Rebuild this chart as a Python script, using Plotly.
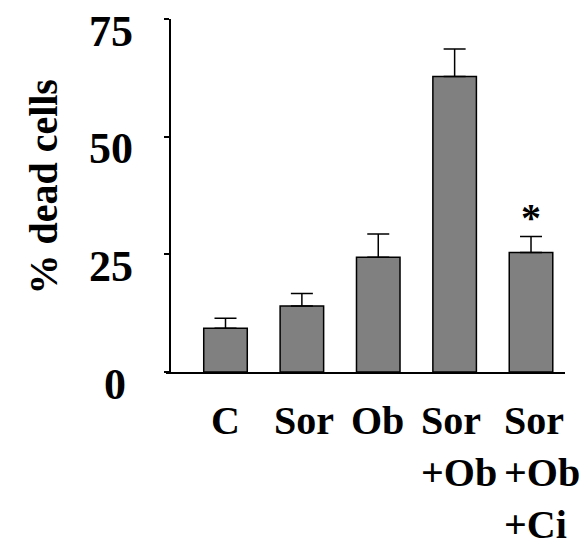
import plotly.graph_objects as go

categories = ["C", "Sor", "Ob", "Sor<br>+Ob", "Sor<br>+Ob<br>+Ci"]
values = [9.3, 14.0, 24.4, 62.8, 25.4]
errors = [2.1, 2.7, 4.9, 5.8, 3.4]
ytick_vals = [0, 25, 50, 75]
ytick_text = ["0", "25", "50", "75"]
significant = [False, False, False, False, True]

# layout tweaks (pixel nudges of text, not data)
LABEL_XSHIFT = [0, 2, -1, 4, 11]
TICK_XSHIFT = [-7, 0, 0, 0]

FONT = "'Times New Roman', 'Liberation Serif', serif"
xs = list(range(len(categories)))

fig = go.Figure()
fig.add_trace(go.Bar(
    x=xs, y=values, width=0.57,
    marker=dict(color="#808080", line=dict(color="black", width=1.5)),
    error_y=dict(type="data", array=errors, arrayminus=[0] * len(errors),
                 symmetric=False, color="black", thickness=1.5, width=11),
    showlegend=False,
))

annotations = []
for i, lab in enumerate(categories):
    annotations.append(dict(
        x=i, y=0, xref="x", yref="paper", text="<b>" + lab + "</b>", showarrow=False,
        xanchor="center", yanchor="top", align="left", yshift=-24,
        xshift=LABEL_XSHIFT[i],
        font=dict(family=FONT, size=40, color="black"),
    ))
for j, (v, t) in enumerate(zip(ytick_vals, ytick_text)):
    annotations.append(dict(
        x=-0.078, y=v, xref="paper", yref="y", text="<b>" + t + "</b>", showarrow=False,
        xanchor="right", yanchor="middle", yshift=-12, xshift=TICK_XSHIFT[j],
        font=dict(family=FONT, size=44, color="black"),
    ))
for i, sig in enumerate(significant):
    if sig:
        annotations.append(dict(
            x=i, y=values[i] + errors[i], xref="x", yref="y", text="<b>*</b>",
            showarrow=False, xanchor="center", yanchor="bottom", yshift=-6,
            font=dict(family=FONT, size=40, color="black"),
        ))
annotations.append(dict(
    x=-0.308, y=0.5255, xref="paper", yref="paper", text="<b>% dead cells</b>",
    showarrow=False, textangle=-90, xanchor="center", yanchor="middle",
    font=dict(family=FONT, size=40, color="black"),
))

fig.update_layout(
    template="none",
    width=588, height=547,
    margin=dict(l=158, r=31, t=11, b=183, autoexpand=False),
    plot_bgcolor="white", paper_bgcolor="white",
    annotations=annotations,
)
fig.update_xaxes(range=[-0.779, 4.445], showline=True, linecolor="black",
                 linewidth=1.5, showticklabels=False, ticks="",
                 showgrid=False, zeroline=False, automargin=False)
fig.update_yaxes(range=[0, 75], tickvals=ytick_vals, showticklabels=False,
                 anchor="free", position=0.01,
                 showline=True, linecolor="black", linewidth=1.5,
                 ticks="outside", ticklen=5, tickwidth=1.5, tickcolor="black",
                 showgrid=False, zeroline=False, automargin=False)

fig.write_html("out.html")
